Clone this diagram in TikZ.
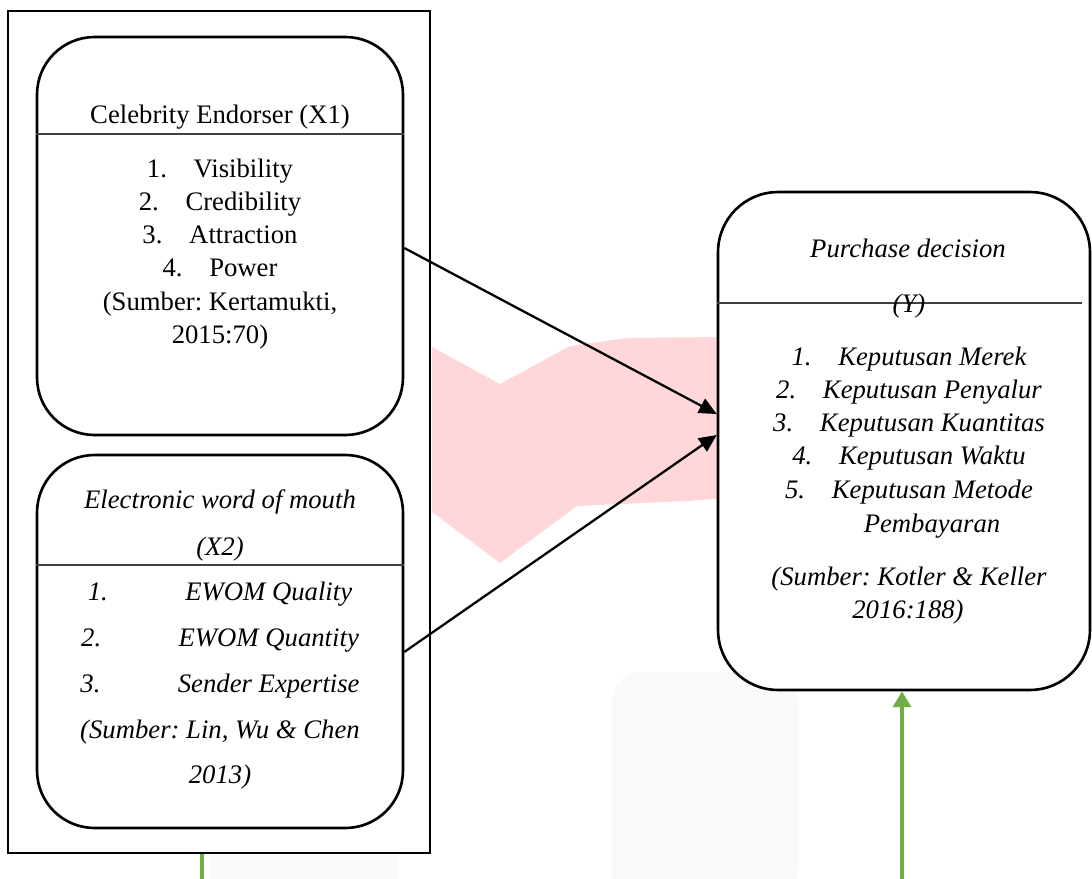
\documentclass[tikz,border=0pt]{standalone}
\usepackage{fontspec}
\setmainfont{Liberation Serif}
\usetikzlibrary{arrows.meta}
\definecolor{leafgreen}{HTML}{70AD47}
\definecolor{wmpink}{HTML}{FFD7DA}
\definecolor{wmgrey}{HTML}{F9F9F9}
\frenchspacing

\begin{document}
\begin{tikzpicture}[x=0.02cm, y=-0.02cm,
    box/.style={draw, line width=1.5pt, rounded corners=1.15cm, fill=white},
    divider/.style={draw=black!75, line width=0.7pt},
    txt/.style={anchor=base, inner sep=0pt, font=\fontsize{15.2}{17}\selectfont},
    itxt/.style={txt, font=\fontsize{15.2}{17}\selectfont\itshape},
    link/.style={-{Triangle[length=10pt, width=9pt]}, line width=1.3pt},
    green line/.style={draw=leafgreen, line width=2.2pt}]
\useasboundingbox (0,0) rectangle (1092,879);

% Watermark in the background
\fill[wmpink] (432,347) -- (500,384) -- (570,346) -- (627,338) -- (725,337) -- (725,498)
    -- (687,501) -- (577,506) -- (500,563) -- (432,512) -- cycle;
\fill[wmgrey, rounded corners=0.6cm] (612,672) rectangle (798,900);
\fill[wmgrey] (210,855) rectangle (398,879);

% Outer frame round the independent variables
\node[draw, line width=1.6pt, minimum width=8.44cm, minimum height=16.84cm] (frame) at (219,432) {};

% Variable boxes
\node[box, minimum width=7.32cm, minimum height=7.96cm] (x1) at (220,236) {};
\node[box, minimum width=7.32cm, minimum height=7.46cm] (x2) at (220,641.5) {};
\node[box, rounded corners=1.2cm, minimum width=7.44cm, minimum height=9.96cm] (y) at (904,441) {};

\draw[divider] (x1.west |- 0,134) -- (x1.east |- 0,134);
\draw[divider] (x2.west |- 0,565) -- (x2.east |- 0,565);
\draw[divider] (y.west |- 0,303) -- (1082,303);

% X1 indicators
\node[txt] (x1title) at (220,123) {Celebrity Endorser (X1)};
\foreach \i/\t in {1/Visibility, 2/Credibility, 3/Attraction, 4/Power}
    \node[txt] (x1item\i) at (220,143.7+33.3*\i) {\i.\quad\t};
\node[txt] (x1src) at (220,310) {(Sumber: Kertamukti,};
\node[txt] (x1year) at (220,343) {2015:70)};

% X2 indicators
\node[itxt] (x2title) at (220,508) {Electronic word of mouth};
\node[itxt] (x2var) at (220,555) {(X2)};
\foreach \i/\t in {1/EWOM Quality, 2/EWOM Quantity, 3/Sender Expertise}
    \node[itxt] (x2item\i) at (220,554+46*\i) {\i.\hspace{2.9em}\t};
\node[itxt] (x2src) at (220,738) {(Sumber: Lin, Wu \& Chen};
\node[itxt] (x2year) at (220,783) {2013)};

% Y indicators
\node[itxt] (ytitle) at (908,257) {Purchase decision};
\node[itxt] (yvar) at (909,312) {(Y)};
\foreach \i/\t in {1/Merek, 2/Penyalur, 3/Kuantitas, 4/Waktu, 5/Metode}
    \node[itxt] (yitem\i) at (909,332+33.2*\i) {\i.\quad Keputusan \t};
\node[itxt] (ypay) at (932,532) {Pembayaran};
\node[itxt] (ysrc) at (909,585) {(Sumber: Kotler \& Keller};
\node[itxt] (yyear) at (908,618) {2016:188)};

% Influence arrows
\draw[link] (x1.east |- 0,248) -- (y.west |- 0,414);
\draw[link] (x2.east |- 0,652) -- (y.west |- 0,435);

% Green connectors
\coordinate (xfoot) at (202,879);
\coordinate (yfoot) at (902,879);
\draw[green line] (frame.south -| xfoot) -- (xfoot);
\draw[green line, -{Triangle[length=9pt, width=10pt]}] (yfoot) -- (y.south -| yfoot);
\end{tikzpicture}
\end{document}
